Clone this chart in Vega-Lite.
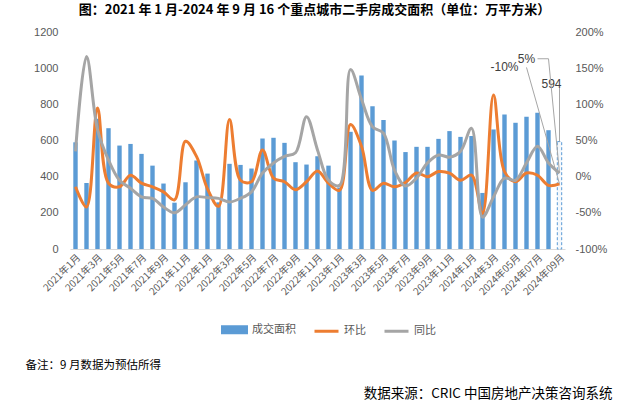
{
  "$schema": "https://vega.github.io/schema/vega-lite/v6.json",
  "width": 495,
  "height": 217,
  "autosize": "none",
  "padding": {"left": 70, "top": 32, "right": 55, "bottom": 161},
  "background": "white",
  "title": {
    "text": "图：2021 年 1 月-2024 年 9 月 16 个重点城市二手房成交面积（单位：万平方米）",
    "font": "Noto Sans CJK SC",
    "fontSize": 13,
    "fontWeight": "bold",
    "color": "#000000",
    "anchor": "middle",
    "frame": "group",
    "offset": 14,
    "dy": 5,
    "dx": -3
  },
  "config": {
    "view": {"stroke": null},
    "axis": {"grid": false, "ticks": false, "labelColor": "#595959", "labelFont": "Liberation Sans"},
    "axisY": {"tickCount": 7, "format": "d"},
    "legend": {
      "orient": "none",
      "direction": "horizontal",
      "legendX": 151,
      "legendY": 284,
      "labelFont": "Noto Sans CJK SC",
      "labelFontSize": 11,
      "labelColor": "#595959",
      "labelOffset": 4,
      "columnPadding": 12,
      "symbolSize": 576,
      "title": null
    }
  },
  "datasets": {
    "main": [
      {"m": "2021-01", "成交面积": 590, "环比": -14, "同比": 35},
      {"m": "2021-02", "成交面积": 365, "环比": -42, "同比": 166},
      {"m": "2021-03", "成交面积": 720, "环比": 95, "同比": 65},
      {"m": "2021-04", "成交面积": 668, "环比": -9, "同比": 23},
      {"m": "2021-05", "成交面积": 572, "环比": -14, "同比": -5},
      {"m": "2021-06", "成交面积": 581, "环比": 2, "同比": -16},
      {"m": "2021-07", "成交面积": 526, "环比": -9, "同比": -28},
      {"m": "2021-08", "成交面积": 461, "环比": -14, "同比": -30},
      {"m": "2021-09", "成交面积": 362, "环比": -21, "同比": -42},
      {"m": "2021-10", "成交面积": 256, "环比": -32, "同比": -50},
      {"m": "2021-11", "成交面积": 369, "环比": 49, "同比": -39},
      {"m": "2021-12", "成交面积": 489, "环比": 28, "同比": -28},
      {"m": "2022-01", "成交面积": 417, "环比": -17, "同比": -29},
      {"m": "2022-02", "成交面积": 258, "环比": -41, "同比": -30},
      {"m": "2022-03", "成交面积": 471, "环比": 79, "同比": -35},
      {"m": "2022-04", "成交面积": 465, "环比": -5, "同比": -30},
      {"m": "2022-05", "成交面积": 445, "环比": -7, "同比": -21},
      {"m": "2022-06", "成交面积": 611, "环比": 37, "同比": 5},
      {"m": "2022-07", "成交面积": 615, "环比": -2, "同比": 19},
      {"m": "2022-08", "成交面积": 587, "环比": -7, "同比": 28},
      {"m": "2022-09", "成交面积": 480, "环比": -18, "同比": 33},
      {"m": "2022-10", "成交面积": 467, "环比": -7, "同比": 83},
      {"m": "2022-11", "成交面积": 513, "环比": 8, "同比": 37},
      {"m": "2022-12", "成交面积": 461, "环比": -9, "同比": -5},
      {"m": "2023-01", "成交面积": 340, "环比": -19, "同比": -12},
      {"m": "2023-02", "成交面积": 648, "环比": 72, "同比": 148},
      {"m": "2023-03", "成交面积": 960, "环比": 42, "同比": 107},
      {"m": "2023-04", "成交面积": 790, "环比": -19, "同比": 69},
      {"m": "2023-05", "成交面积": 714, "环比": -9, "同比": 60},
      {"m": "2023-06", "成交面积": 600, "环比": -14, "同比": 9},
      {"m": "2023-07", "成交面积": 536, "环比": -8, "同比": -13},
      {"m": "2023-08", "成交面积": 565, "环比": 5, "同比": -2},
      {"m": "2023-09", "成交面积": 565, "环比": 0, "同比": 19},
      {"m": "2023-10", "成交面积": 609, "环比": 7, "同比": 30},
      {"m": "2023-11", "成交面积": 652, "环比": 5, "同比": 27},
      {"m": "2023-12", "成交面积": 620, "环比": -5, "同比": 35},
      {"m": "2024-01", "成交面积": 625, "环比": 2, "同比": 67},
      {"m": "2024-02", "成交面积": 310, "环比": -51, "同比": -56},
      {"m": "2024-03", "成交面积": 661, "环比": 113, "同比": -28},
      {"m": "2024-04", "成交面积": 744, "环比": 7, "同比": -2},
      {"m": "2024-05", "成交面积": 698, "环比": -7, "同比": -5},
      {"m": "2024-06", "成交面积": 731, "环比": 5, "同比": 19},
      {"m": "2024-07", "成交面积": 753, "环比": 2, "同比": 42},
      {"m": "2024-08", "成交面积": 657, "环比": -12, "同比": 19},
      {"m": "2024-09", "成交面积": 594, "环比": -10, "同比": 5}
    ],
    "pctLabels": [
      {"m": "2024-04", "v": 151, "label": "-10%"},
      {"m": "2024-06", "v": 162, "label": "5%"}
    ],
    "pctLeaders": [
      {"m": "2024-06", "m2": "2024-09", "v": 151, "v2": -10},
      {"m": "2024-07", "m2": "2024-08", "v": 163, "v2": 163},
      {"m": "2024-08", "m2": "2024-09", "v": 163, "v2": 5}
    ],
    "areaLabels": [
      {"m": "2024-09", "v": 912, "label": "594"}
    ],
    "areaLeaders": [
      {"m": "2024-09", "m2": "2024-09", "v": 890, "v2": 594}
    ]
  },
  "encoding": {
    "x": {
      "field": "m",
      "type": "ordinal",
      "scale": {"paddingInner": 0.6, "paddingOuter": 0.3},
      "axis": {
        "title": null,
        "values": ["2021-01","2021-03","2021-05","2021-07","2021-09","2021-11","2022-01","2022-03","2022-05","2022-07","2022-09","2022-11","2023-01","2023-03","2023-05","2023-07","2023-09","2023-11","2024-01","2024-03","2024-05","2024-07","2024-09"],
        "labelExpr": "slice(datum.value,0,4) + '年' + ((slice(datum.value,0,4) == '2024' && toNumber(slice(datum.value,5,7)) >= 5) ? slice(datum.value,5,7) : '' + toNumber(slice(datum.value,5,7))) + '月'",
        "labelAngle": -45,
        "labelFont": "Noto Sans CJK SC",
        "labelFontSize": 10,
        "labelColor": "#595959",
        "labelPadding": 3,
        "domain": true,
        "domainColor": "#D9D9D9",
        "ticks": false
      }
    }
  },
  "layer": [
    {
      "layer": [
        {
          "data": {"name": "main"},
          "transform": [{"filter": "datum.m != '2024-09'"}],
          "mark": {"type": "bar"},
          "encoding": {
            "y": {
              "field": "成交面积",
              "type": "quantitative",
              "title": "备注：9 月数据为预估所得",
              "scale": {"domain": [0, 1200], "nice": false},
              "axis": {
                "values": [0, 200, 400, 600, 800, 1000, 1200],
                "tickCount": 7,
                "format": "d",
                "labelFontSize": 11,
                "labelPadding": 12,
                "domain": false,
                "titleAngle": 0,
                "titleX": -45,
                "titleY": 333,
                "titleAlign": "left",
                "titleBaseline": "middle",
                "titleFont": "Noto Sans CJK SC",
                "titleFontSize": 11.5,
                "titleFontWeight": "normal",
                "titleColor": "#000000"
              }
            },
            "color": {
              "datum": "成交面积",
              "type": "nominal",
              "scale": {"domain": ["成交面积", "环比", "同比"], "range": ["#5B9BD5", "#ED7D31", "#A5A5A5"]},
              "legend": {
                "encode": {
                  "symbols": {
                    "update": {
                      "shape": {"signal": "datum.value === '成交面积' ? 'M-1,-0.25H1V0.25H-1Z' : 'stroke'"},
                      "fill": {"signal": "datum.value === '成交面积' ? '#5B9BD5' : 'transparent'"},
                      "stroke": {"signal": "datum.value === '成交面积' ? 'transparent' : (datum.value === '环比' ? '#ED7D31' : '#A5A5A5')"},
                      "strokeWidth": {"value": 3},
                      "opacity": {"value": 1}
                    }
                  }
                }
              }
            }
          }
        },
        {
          "data": {"name": "main"},
          "transform": [{"filter": "datum.m == '2024-09'"}],
          "mark": {"type": "bar", "fill": "#F4F8FC", "stroke": "#5B9BD5", "strokeDash": [3, 2], "strokeWidth": 1},
          "encoding": {
            "y": {"field": "成交面积", "type": "quantitative", "title": "备注：9 月数据为预估所得"}
          }
        },
        {
          "data": {"name": "areaLeaders"},
          "mark": {"type": "rule", "color": "#A6A6A6", "strokeWidth": 1},
          "encoding": {
            "x2": {"field": "m2"},
            "y": {"field": "v", "type": "quantitative", "title": "备注：9 月数据为预估所得"},
            "y2": {"field": "v2"}
          }
        },
        {
          "data": {"name": "areaLabels"},
          "mark": {"type": "text", "font": "Liberation Sans", "fontSize": 12, "color": "#404040", "dx": -8},
          "encoding": {
            "y": {"field": "v", "type": "quantitative", "title": "备注：9 月数据为预估所得"},
            "text": {"field": "label"}
          }
        }
      ]
    },
    {
      "layer": [
        {
          "data": {"name": "main"},
          "transform": [{"fold": ["环比", "同比"], "as": ["series", "pct"]}],
          "mark": {"type": "line", "interpolate": "catmull-rom", "strokeWidth": 3},
          "encoding": {
            "y": {
              "field": "pct",
              "type": "quantitative",
              "title": "数据来源：CRIC 中国房地产决策咨询系统",
              "scale": {"domain": [-100, 200], "nice": false},
              "axis": {
                "orient": "right",
                "values": [-100, -50, 0, 50, 100, 150, 200],
                "tickCount": 7,
                "labelExpr": "datum.value + '%'",
                "labelFontSize": 11,
                "labelPadding": 10,
                "domain": false,
                "titleAngle": 0,
                "titleX": 47,
                "titleY": 361,
                "titleAlign": "right",
                "titleBaseline": "middle",
                "titleFont": "Noto Sans CJK SC",
                "titleFontSize": 13.5,
                "titleFontWeight": "normal",
                "titleColor": "#000000"
              }
            },
            "color": {"field": "series", "type": "nominal"}
          }
        },
        {
          "data": {"name": "pctLeaders"},
          "mark": {"type": "rule", "color": "#A6A6A6", "strokeWidth": 1},
          "encoding": {
            "x2": {"field": "m2"},
            "y": {"field": "v", "type": "quantitative", "title": "数据来源：CRIC 中国房地产决策咨询系统"},
            "y2": {"field": "v2"}
          }
        },
        {
          "data": {"name": "pctLabels"},
          "mark": {"type": "text", "font": "Liberation Sans", "fontSize": 12, "color": "#404040"},
          "encoding": {
            "y": {"field": "v", "type": "quantitative", "title": "数据来源：CRIC 中国房地产决策咨询系统"},
            "text": {"field": "label"}
          }
        }
      ]
    }
  ],
  "resolve": {"scale": {"y": "independent"}}
}
